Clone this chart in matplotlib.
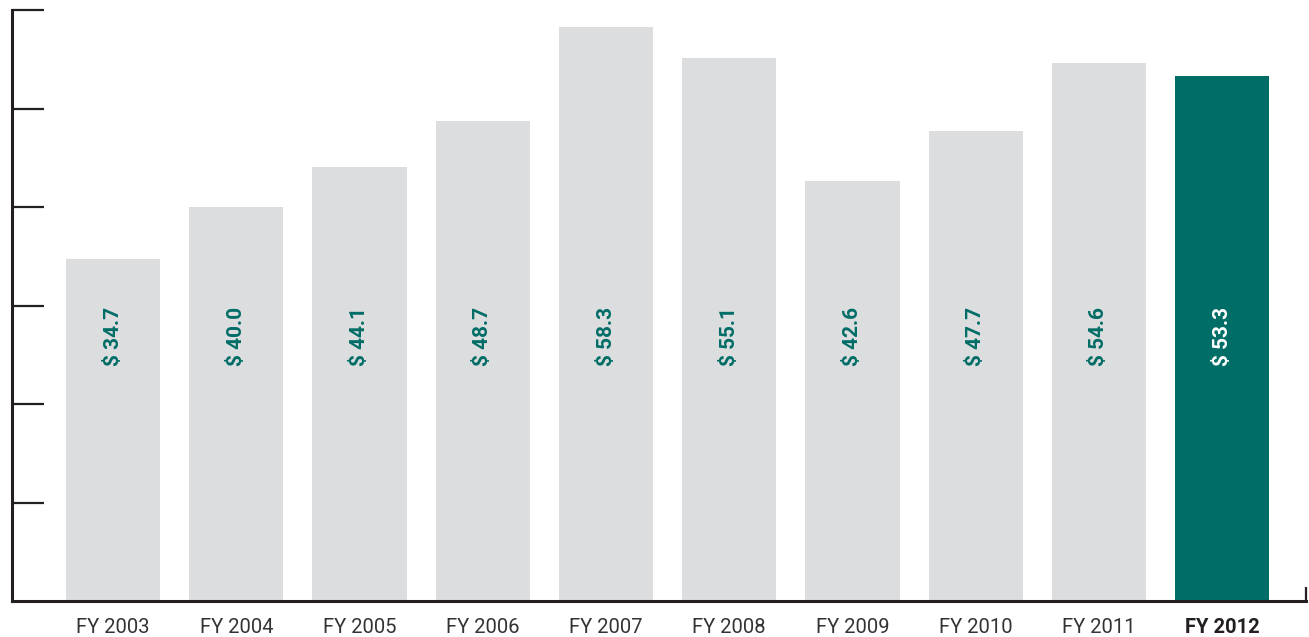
import matplotlib
matplotlib.use("Agg")
import matplotlib.pyplot as plt
import numpy as np

# Данные по годам
years = ["FY 2003", "FY 2004", "FY 2005", "FY 2006", "FY 2007",
         "FY 2008", "FY 2009", "FY 2010", "FY 2011", "FY 2012"]
values = [34.7, 40.0, 44.1, 48.7, 58.3, 55.1, 42.6, 47.7, 54.6, 53.3]
value_labels = ["$ 34.7", "$ 40.0", "$ 44.1", "$ 48.7", "$ 58.3",
                "$ 55.1", "$ 42.6", "$ 47.7", "$ 54.6", "$ 53.3"]
y_ticks = [10, 20, 30, 40, 50, 60]

GRAY = "#DCDDDF"
TEAL = "#006D66"
DARK = "#231F20"

plt.rcParams['font.family'] = ['Roboto', 'DejaVu Sans']

fig = plt.figure(figsize=(13.09, 6.37), dpi=100)
ax = fig.add_axes([12 / 1309, 36 / 637, (1306 - 12) / 1309, (601 - 10) / 637])

x = np.arange(len(years))
colors = [GRAY] * (len(years) - 1) + [TEAL]
ax.bar(x, values, width=0.765, color=colors, zorder=1)

# Подписи значений внутри столбцов
label_y = 26.9
for i, lbl in enumerate(value_labels):
    c = "white" if i == len(years) - 1 else TEAL
    ax.text(x[i], label_y, lbl, rotation=90, ha="center", va="center",
            fontsize=15, fontweight="bold", color=c)

ax.set_xlim(-0.82, 9.68)
ax.set_ylim(0, 60)

# Оси
for s in ["top", "right"]:
    ax.spines[s].set_visible(False)
for s in ["left", "bottom"]:
    ax.spines[s].set_color(DARK)
    ax.spines[s].set_linewidth(2.2)
    ax.spines[s].set_zorder(3)

ax.set_yticks(y_ticks)
ax.set_yticklabels([])
ax.tick_params(axis="y", direction="in", length=23, width=1.6, color=DARK)

ax.set_xticks(x)
ax.set_xticklabels(years)
ax.tick_params(axis="x", length=0, pad=12, labelsize=14.5, labelcolor="#333333")
ax.get_xticklabels()[-1].set_fontweight("bold")
ax.get_xticklabels()[-1].set_color(DARK)

# Маленькая засечка в правом конце оси
ax.set_xticks([9.68], minor=True)
ax.tick_params(axis="x", which="minor", direction="in", length=10, width=1.6, color=DARK)

fig.savefig("out.png", dpi=100)
